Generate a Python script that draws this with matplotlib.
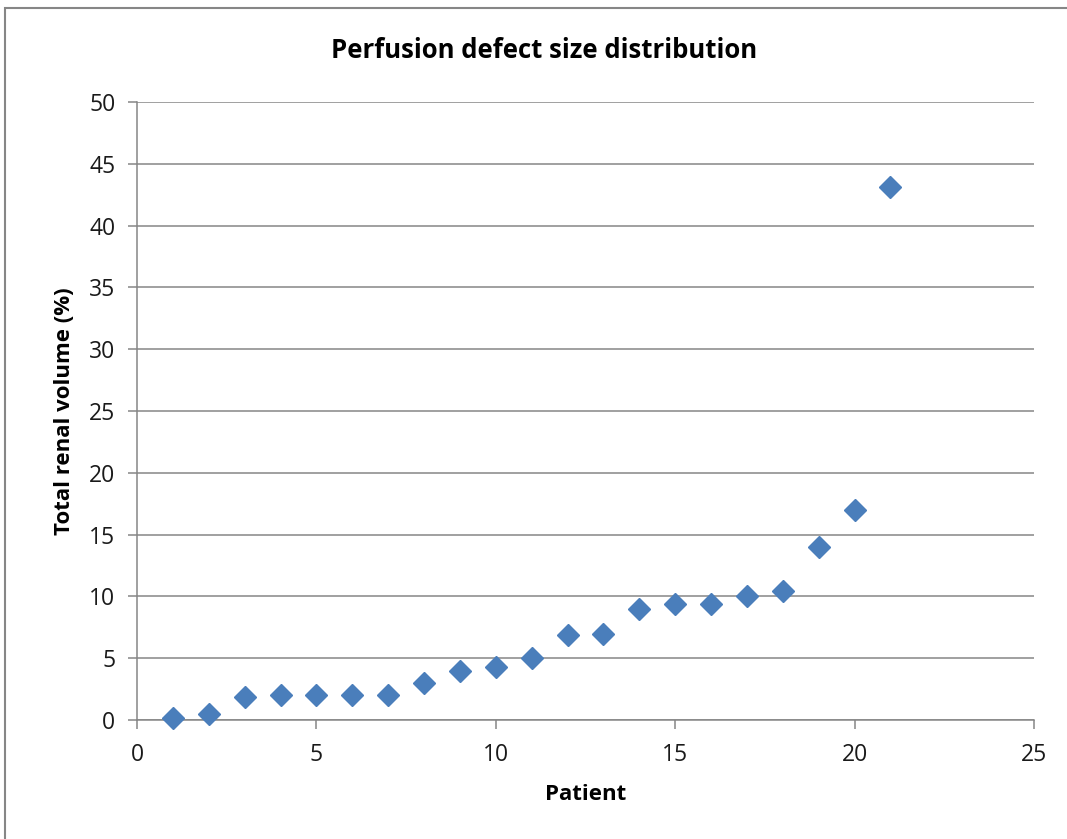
import matplotlib
matplotlib.use("Agg")
import matplotlib.pyplot as plt
from matplotlib.patches import Rectangle

patients = list(range(1, 22))
volume = [0.2, 0.5, 1.9, 2.0, 2.0, 2.0, 2.0, 3.0, 4.0, 4.3, 5.0, 6.9, 7.0,
          9.0, 9.4, 9.4, 10.0, 10.4, 14.0, 17.0, 43.1]
x_ticks = [0, 5, 10, 15, 20, 25]
y_ticks = [0, 5, 10, 15, 20, 25, 30, 35, 40, 45, 50]

plt.rcParams['font.family'] = ['Open Sans', 'DejaVu Sans']

fig = plt.figure(figsize=(10.67, 8.39), dpi=100)
ax = fig.add_axes([0.1284, 0.1418, 0.969 - 0.1284, 0.8784 - 0.1418])

grid_c = '#868686'
ax.set_xlim(0, 25)
ax.set_ylim(0, 50)
ax.set_xticks(x_ticks)
ax.set_yticks(y_ticks)
ax.yaxis.grid(True, color=grid_c, linewidth=1.1)
ax.set_axisbelow(True)
for s in ['top', 'right']:
    ax.spines[s].set_visible(False)
for s in ['left', 'bottom']:
    ax.spines[s].set_color(grid_c)
    ax.spines[s].set_linewidth(1.1)
ax.tick_params(axis='both', direction='out', length=6.5, width=1.1, color=grid_c,
               labelsize=16.5, labelcolor='#1a1a1a')
ax.tick_params(axis='y', pad=9)
ax.tick_params(axis='x', pad=10)

ax.plot(patients, volume, linestyle='none', marker='D', markersize=11.2,
        color='#4A7EBB', markeredgecolor='#4A7EBB', clip_on=False, zorder=3)

fig.text(0.51, 1 - 50 / 839, 'Perfusion defect size distribution', fontsize=18.5,
         fontweight='bold', ha='center', va='center')
ax.set_xlabel('Patient', fontsize=16, fontweight='bold', labelpad=12)
ax.set_ylabel('Total renal volume (%)', fontsize=16, fontweight='bold', labelpad=10)

fig.patches.append(Rectangle((0.0047, -0.01), 1.2, 0.9899 + 0.01,
                             transform=fig.transFigure, fill=False,
                             edgecolor='#868686', linewidth=1.5))

fig.savefig('out.png', dpi=100, facecolor='white')
